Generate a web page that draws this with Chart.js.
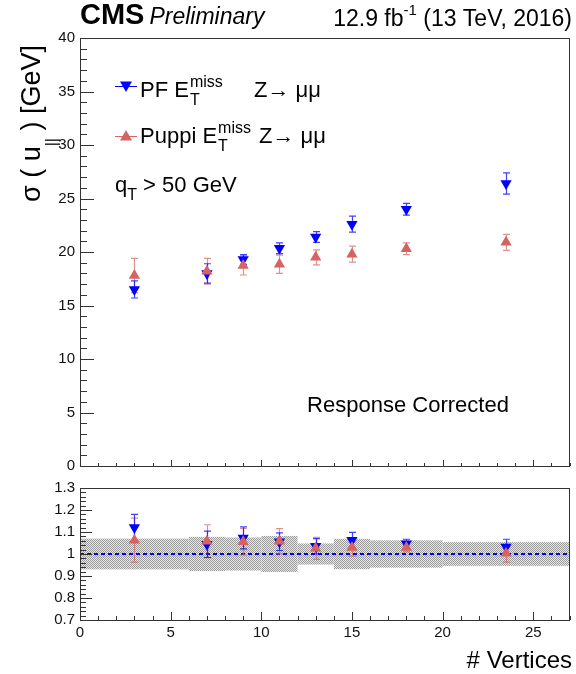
<!DOCTYPE html>
<html>
<head>
<meta charset="utf-8">
<script src="https://cdn.jsdelivr.net/npm/chart.js@4.4.1/dist/chart.umd.min.js"></script>
<style>
  body { margin: 0; background: #fff; }
  #wrap { position: relative; width: 576px; height: 674px; }
  canvas { position: absolute; left: 0; }
</style>
</head>
<body>
<div id="wrap">
  <canvas id="mainChart" width="576" height="480" style="top:0;width:576px;height:480px"></canvas>
  <canvas id="ratioChart" width="576" height="200" style="top:474px;width:576px;height:200px"></canvas>
</div>
<script>
/* sigma(u_par) vs number of vertices, PF vs Puppi MET */

const FONT = '"Liberation Sans", Arial, sans-serif';
const PF_COLOR = "#0000ff";
const PF_BAR = "rgba(0,0,255,0.75)";
const PUPPI_COLOR = "#d66262";
const PUPPI_BAR = "rgba(214,98,98,0.7)";
const FRAME_COLOR = "#333";

const vertices = [3, 7, 9, 11, 13, 15, 18, 23.5];
const pfSigma = [16.5, 18.0, 19.3, 20.35, 21.4, 22.6, 24.0, 26.4];
const pfSigmaErr = [0.8, 0.9, 0.45, 0.5, 0.5, 0.75, 0.55, 1.0];
const puppiSigma = [17.8, 18.2, 18.75, 18.85, 19.5, 19.8, 20.3, 20.9];
const puppiSigmaErr = [1.6, 1.2, 0.9, 0.85, 0.7, 0.75, 0.55, 0.75];

const pfRatio = [1.12, 1.044, 1.073, 1.056, 1.035, 1.063, 1.047, 1.032];
const pfRatioErr = [0.06, 0.06, 0.05, 0.04, 0.035, 0.035, 0.02, 0.035];
const puppiRatio = [1.063, 1.058, 1.056, 1.058, 1.026, 1.03, 1.03, 1.003];
const puppiRatioErr = [0.1, 0.075, 0.06, 0.057, 0.05, 0.04, 0.02, 0.04];

const bandEdges = [0, 6, 8, 10, 12, 14, 16, 20, 27];
const bandErr = [0.07, 0.078, 0.075, 0.082, 0.048, 0.069, 0.062, 0.054];

const xTicks = [0, 5, 10, 15, 20, 25];
const mainYTicks = [0, 5, 10, 15, 20, 25, 30, 35, 40];
const ratioYTicks = [0.7, 0.8, 0.9, 1.0, 1.1, 1.2, 1.3];

/* ---------- helpers ---------- */
function toPoints(xs, ys) {
  return xs.map((x, i) => ({ x, y: ys[i] }));
}

function font(size, style) {
  return (style ? style + " " : "") + size + "px " + FONT;
}

function drawText(ctx, text, x, y, size, opts) {
  opts = opts || {};
  ctx.save();
  ctx.font = font(size, opts.style);
  ctx.fillStyle = opts.color || "#000";
  ctx.textAlign = opts.align || "left";
  ctx.textBaseline = "alphabetic";
  ctx.fillText(text, x, y);
  const w = ctx.measureText(text).width;
  ctx.restore();
  return w;
}

/* ROOT style ticks pointing into the frame */
function drawInnerTicks(ctx, area, scale, from, to, step, majorEvery, majorLen, minorLen, vertical) {
  ctx.save();
  ctx.strokeStyle = FRAME_COLOR;
  ctx.lineWidth = 1;
  ctx.beginPath();
  const n = Math.round((to - from) / step);
  for (let i = 0; i <= n; i++) {
    const v = from + i * step;
    const isMajor = i % majorEvery === 0;
    const len = isMajor ? majorLen : minorLen;
    const p = Math.round(scale.getPixelForValue(v)) + 0.5;
    if (vertical) {
      ctx.moveTo(area.left, p);
      ctx.lineTo(area.left + len, p);
    } else {
      ctx.moveTo(p, area.bottom);
      ctx.lineTo(p, area.bottom - len);
    }
  }
  ctx.stroke();
  ctx.restore();
}

function drawErrorBars(chart, xs, ys, errs, color) {
  const ctx = chart.ctx;
  const xs_ = chart.scales.x;
  const ys_ = chart.scales.y;
  ctx.save();
  ctx.strokeStyle = color;
  ctx.lineWidth = 1.2;
  ctx.beginPath();
  xs.forEach((xv, i) => {
    const px = Math.round(xs_.getPixelForValue(xv)) + 0.5;
    const lo = ys_.getPixelForValue(ys[i] - errs[i]);
    const hi = ys_.getPixelForValue(ys[i] + errs[i]);
    ctx.moveTo(px, lo);
    ctx.lineTo(px, hi);
    ctx.moveTo(px - 3.5, lo);
    ctx.lineTo(px + 3.5, lo);
    ctx.moveTo(px - 3.5, hi);
    ctx.lineTo(px + 3.5, hi);
  });
  ctx.stroke();
  ctx.restore();
}

function drawFrame(chart) {
  const a = chart.chartArea;
  const ctx = chart.ctx;
  ctx.save();
  ctx.strokeStyle = FRAME_COLOR;
  ctx.lineWidth = 1;
  ctx.strokeRect(Math.round(a.left) + 0.5, Math.round(a.top) + 0.5,
    Math.round(a.right - a.left) - 1, Math.round(a.bottom - a.top));
  ctx.restore();
}

function makeDotPattern(ctx) {
  const c = document.createElement("canvas");
  c.width = 2;
  c.height = 2;
  const g = c.getContext("2d");
  g.fillStyle = "#e6e6e6";
  g.fillRect(0, 0, 2, 2);
  g.fillStyle = "#9c9c9c";
  g.fillRect(0, 0, 1, 1);
  g.fillRect(1, 1, 1, 1);
  return ctx.createPattern(c, "repeat");
}

function legendMarker(ctx, x, y, color, down) {
  ctx.save();
  ctx.strokeStyle = color;
  ctx.fillStyle = color;
  ctx.lineWidth = 1;
  ctx.beginPath();
  ctx.moveTo(x - 11, y + 0.5);
  ctx.lineTo(x + 11, y + 0.5);
  ctx.stroke();
  ctx.beginPath();
  if (down) {
    ctx.moveTo(x - 6, y - 4.5);
    ctx.lineTo(x + 6, y - 4.5);
    ctx.lineTo(x, y + 6);
  } else {
    ctx.moveTo(x - 6, y + 4.5);
    ctx.lineTo(x + 6, y + 4.5);
    ctx.lineTo(x, y - 6);
  }
  ctx.closePath();
  ctx.fill();
  ctx.restore();
}

function metLabel(ctx, prefix, x, y) {
  let cx = x;
  cx += drawText(ctx, prefix + " E", cx, y, 22);
  const wT = drawText(ctx, "T", cx + 1, y + 8, 16);
  const wM = drawText(ctx, "miss", cx + 1, y - 10, 16);
  return cx + Math.max(wT, wM);
}

/* ---------- main panel decorations ---------- */
const mainDecor = {
  id: "mainDecor",
  beforeDatasetsDraw(chart) {
    drawErrorBars(chart, vertices, puppiSigma, puppiSigmaErr, PUPPI_BAR);
    drawErrorBars(chart, vertices, pfSigma, pfSigmaErr, PF_BAR);
  },
  afterDraw(chart) {
    const ctx = chart.ctx;
    const a = chart.chartArea;
    drawFrame(chart);
    drawInnerTicks(ctx, a, chart.scales.y, 0, 40, 1, 5, 14, 7, true);
    drawInnerTicks(ctx, a, chart.scales.x, 0, 27, 1, 5, 6, 3, false);

    // header
    const w = drawText(ctx, "CMS", 80, 24, 29, { style: "bold" });
    drawText(ctx, "Preliminary", 80 + w + 5, 24, 23, { style: "italic" });
    const tail = " (13 TeV, 2016)";
    ctx.font = font(23);
    const wTail = ctx.measureText(tail).width;
    drawText(ctx, tail, 572, 26, 23, { align: "right" });
    ctx.font = font(15);
    const wSup = ctx.measureText("-1").width;
    drawText(ctx, "-1", 572 - wTail - wSup, 15, 15);
    drawText(ctx, "12.9 fb", 572 - wTail - wSup, 26, 23, { align: "right" });

    // y title
    ctx.save();
    ctx.translate(40, 202);
    ctx.rotate(-Math.PI / 2);
    let cx = 0;
    cx += drawText(ctx, "\u03c3 ( u", cx, 0, 27);
    cx += drawText(ctx, "||", cx, 17, 16);
    drawText(ctx, " ) [GeV]", cx, 0, 27);
    ctx.restore();

    // legend
    legendMarker(ctx, 126, 86, PF_COLOR, true);
    metLabel(ctx, "PF", 140, 97);
    drawText(ctx, "Z\u2192 \u03bc\u03bc", 254, 97, 22);
    legendMarker(ctx, 126, 136, PUPPI_COLOR, false);
    metLabel(ctx, "Puppi", 140, 143);
    drawText(ctx, "Z\u2192 \u03bc\u03bc", 259, 143, 22);

    cx = 115;
    cx += drawText(ctx, "q", cx, 192, 22);
    cx += drawText(ctx, "T", cx, 200, 16);
    drawText(ctx, " > 50 GeV", cx, 192, 22);

    drawText(ctx, "Response Corrected", 408, 412, 22, { align: "center" });
  }
};

/* ---------- ratio panel decorations ---------- */
const ratioDecor = {
  id: "ratioDecor",
  beforeDatasetsDraw(chart) {
    const ctx = chart.ctx;
    const xs = chart.scales.x;
    const ys = chart.scales.y;
    const a = chart.chartArea;
    ctx.save();
    ctx.beginPath();
    ctx.rect(a.left, a.top, a.right - a.left, a.bottom - a.top);
    ctx.clip();
    ctx.fillStyle = makeDotPattern(ctx);
    for (let i = 0; i < bandErr.length; i++) {
      const x0 = xs.getPixelForValue(bandEdges[i]);
      const x1 = xs.getPixelForValue(bandEdges[i + 1]);
      const y0 = ys.getPixelForValue(1 + bandErr[i]);
      const y1 = ys.getPixelForValue(1 - bandErr[i]);
      ctx.fillRect(x0, y0, x1 - x0, y1 - y0);
    }
    // unity line
    ctx.strokeStyle = PF_COLOR;
    ctx.lineWidth = 2;
    ctx.setLineDash([4, 3]);
    ctx.beginPath();
    const y1 = ys.getPixelForValue(1);
    ctx.moveTo(a.left, y1);
    ctx.lineTo(a.right, y1);
    ctx.stroke();
    ctx.restore();

    drawErrorBars(chart, vertices, puppiRatio, puppiRatioErr, PUPPI_BAR);
    drawErrorBars(chart, vertices, pfRatio, pfRatioErr, PF_BAR);
  },
  afterDraw(chart) {
    const ctx = chart.ctx;
    const a = chart.chartArea;
    drawFrame(chart);
    drawInnerTicks(ctx, a, chart.scales.y, 0.7, 1.3, 0.02, 5, 12, 6, true);
    drawInnerTicks(ctx, a, chart.scales.x, 0, 27, 1, 5, 8, 4, false);

    ctx.save();
    ctx.translate(44, 550);
    ctx.rotate(-Math.PI / 2);
    drawText(ctx, "Data / MC", 0, 0, 29, { align: "center" });
    ctx.restore();

    drawText(ctx, "# Vertices", 572, 194, 24, { align: "right" });
  }
};

/* ---------- charts ---------- */
function scatterSet(label, xs, ys, color, rotation) {
  return {
    type: "scatter",
    label,
    data: toPoints(xs, ys),
    pointStyle: "triangle",
    rotation,
    pointRadius: 6.5,
    pointBackgroundColor: color,
    pointBorderColor: color,
    pointBorderWidth: 0,
    showLine: false
  };
}

function yAxis(min, max, ticks, width) {
  return {
    type: "linear",
    min,
    max,
    afterBuildTicks: (s) => { s.ticks = ticks.map((v) => ({ value: v })); },
    afterFit: (s) => { s.width = width; },
    grid: { display: false, drawTicks: false },
    border: { display: false },
    ticks: {
      padding: 5,
      color: "#111",
      font: { family: FONT, size: 15 },
      callback: (v) => String(+Number(v).toFixed(1))
    }
  };
}

const common = {
  responsive: false,
  animation: false,
  events: [],
  plugins: { legend: { display: false }, tooltip: { enabled: false } }
};

new Chart(document.getElementById("mainChart"), {
  type: "scatter",
  data: {
    datasets: [
      scatterSet("Puppi", vertices, puppiSigma, PUPPI_COLOR, 0),
      scatterSet("PF", vertices, pfSigma, PF_COLOR, 180)
    ]
  },
  options: Object.assign({}, common, {
    layout: { padding: { left: 0, right: 4, top: 38, bottom: 12 } },
    scales: {
      x: {
        type: "linear",
        min: 0,
        max: 27,
        afterFit: (s) => { s.height = 0; },
        grid: { display: false, drawTicks: false },
        border: { display: false },
        ticks: { display: false }
      },
      y: yAxis(0, 40, mainYTicks, 80)
    }
  }),
  plugins: [mainDecor]
});

new Chart(document.getElementById("ratioChart"), {
  type: "scatter",
  data: {
    datasets: [
      scatterSet("Puppi", vertices, puppiRatio, PUPPI_COLOR, 0),
      scatterSet("PF", vertices, pfRatio, PF_COLOR, 180)
    ]
  },
  options: Object.assign({}, common, {
    layout: { padding: { left: 0, right: 4, top: 9, bottom: 0 } },
    scales: {
      x: {
        type: "linear",
        min: 0,
        max: 27,
        afterBuildTicks: (s) => { s.ticks = xTicks.map((v) => ({ value: v })); },
        afterFit: (s) => { s.height = 54; },
        grid: { display: false, drawTicks: false },
        border: { display: false },
        ticks: {
          padding: 4,
          maxRotation: 0,
          color: "#111",
          font: { family: FONT, size: 15 }
        }
      },
      y: yAxis(0.7, 1.3, ratioYTicks, 80)
    }
  }),
  plugins: [ratioDecor]
});
</script>
</body>
</html>
